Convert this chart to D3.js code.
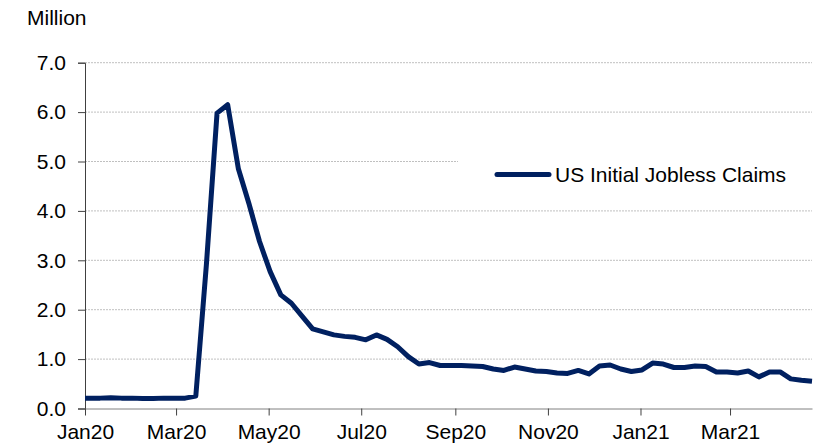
<!DOCTYPE html>
<html>
<head>
<meta charset="utf-8">
<script src="https://cdn.jsdelivr.net/npm/d3@7"></script>
<style>
  html, body { margin: 0; padding: 0; background: #fff; }
  svg { display: block; font-family: "Liberation Sans", Arial, sans-serif; }
</style>
</head>
<body>
<svg id="chart" width="818" height="445"></svg>
<script>
// Weekly US initial jobless claims (millions), week-ending dates
const weekEnding = [
  "2019-12-28","2020-01-04","2020-01-11","2020-01-18","2020-01-25","2020-02-01","2020-02-08","2020-02-15",
  "2020-02-22","2020-02-29","2020-03-07","2020-03-14","2020-03-21","2020-03-28","2020-04-04","2020-04-11",
  "2020-04-18","2020-04-25","2020-05-02","2020-05-09","2020-05-16","2020-05-23","2020-05-30","2020-06-06",
  "2020-06-13","2020-06-20","2020-06-27","2020-07-04","2020-07-11","2020-07-18","2020-07-25","2020-08-01",
  "2020-08-08","2020-08-15","2020-08-22","2020-08-29","2020-09-05","2020-09-12","2020-09-19","2020-09-26",
  "2020-10-03","2020-10-10","2020-10-17","2020-10-24","2020-10-31","2020-11-07","2020-11-14","2020-11-21",
  "2020-11-28","2020-12-05","2020-12-12","2020-12-19","2020-12-26","2021-01-02","2021-01-09","2021-01-16",
  "2021-01-23","2021-01-30","2021-02-06","2021-02-13","2021-02-20","2021-02-27","2021-03-06","2021-03-13",
  "2021-03-20","2021-03-27","2021-04-03","2021-04-10","2021-04-17","2021-04-24"
];
const claims = [
  0.21,0.21,0.21,0.22,0.21,0.21,0.20,0.20,
  0.21,0.21,0.21,0.25,2.92,5.98,6.15,4.86,
  4.15,3.38,2.77,2.30,2.13,1.87,1.61,1.55,
  1.49,1.46,1.44,1.39,1.49,1.40,1.25,1.05,
  0.90,0.93,0.87,0.87,0.87,0.86,0.85,0.80,
  0.77,0.84,0.80,0.76,0.75,0.72,0.71,0.77,
  0.70,0.86,0.88,0.80,0.75,0.78,0.92,0.90,
  0.83,0.83,0.86,0.85,0.74,0.74,0.72,0.76,
  0.64,0.74,0.74,0.60,0.57,0.55
];
const seriesName = "US Initial Jobless Claims";
const unitLabel = "Million";
const xTickDates = ["2020-01-01","2020-03-01","2020-05-01","2020-07-01","2020-09-01","2020-11-01","2021-01-01","2021-03-01"];
const xTickLabels = ["Jan20","Mar20","May20","Jul20","Sep20","Nov20","Jan21","Mar21"];
const yTicks = [0,1,2,3,4,5,6,7];

const parse = d3.utcParse("%Y-%m-%d");
const data = weekEnding.map((d, i) => ({ date: parse(d), value: claims[i] }));

const svg = d3.select("#chart");
const plotLeft = 85, plotRight = 812, plotTop = 62.7, plotBottom = 408.5;
const fontSize = 21;

const x = d3.scaleUtc()
  .domain([parse("2020-01-01"), parse("2021-04-24")])
  .range([plotLeft, plotRight]);
const y = d3.scaleLinear().domain([0, 7]).range([plotBottom, plotTop]);

// Horizontal gridlines
svg.append("g")
  .selectAll("line")
  .data(yTicks.filter(v => v > 0))
  .join("line")
  .attr("x1", plotLeft).attr("x2", plotRight)
  .attr("y1", d => y(d)).attr("y2", d => y(d))
  .attr("stroke", "#c0c0c0")
  .attr("stroke-width", 1)
  .attr("stroke-dasharray", "2,1");

// Clip area for the plotted line
svg.append("clipPath").attr("id", "plot-clip")
  .append("rect")
  .attr("x", plotLeft).attr("y", 0)
  .attr("width", plotRight - plotLeft + 4).attr("height", plotBottom);

// Legend panel sits over the gridlines
const legend = svg.append("g");
legend.append("rect")
  .attr("x", 458).attr("y", 140)
  .attr("width", 360).attr("height", 62)
  .attr("fill", "#fff");

// Y axis
const yAxis = svg.append("g")
  .attr("transform", `translate(${plotLeft},0)`)
  .call(d3.axisLeft(y).tickValues(yTicks).tickFormat(d3.format(".1f")).tickSize(7).tickPadding(12));
yAxis.select(".domain").attr("stroke", "#404040");
yAxis.selectAll(".tick line").attr("stroke", "#404040");
yAxis.selectAll("text").attr("font-size", fontSize).attr("fill", "#000")
  .attr("font-family", "Liberation Sans, Arial, sans-serif");

// X axis
const xAxis = svg.append("g")
  .attr("transform", `translate(0,${plotBottom})`)
  .call(d3.axisBottom(x)
    .tickValues(xTickDates.map(parse))
    .tickFormat((d, i) => xTickLabels[i])
    .tickSize(7).tickPadding(9).tickSizeOuter(0));
xAxis.select(".domain").attr("stroke", "#808080");
xAxis.selectAll(".tick line").attr("stroke", "#404040");
xAxis.selectAll("text").attr("font-size", fontSize).attr("fill", "#000")
  .attr("font-family", "Liberation Sans, Arial, sans-serif");

// Series line
const line = d3.line().x(d => x(d.date)).y(d => y(d.value));
svg.append("path")
  .datum(data)
  .attr("clip-path", "url(#plot-clip)")
  .attr("d", line)
  .attr("fill", "none")
  .attr("stroke", "#002060")
  .attr("stroke-width", 5)
  .attr("stroke-linejoin", "round");

// Unit label
svg.append("text")
  .attr("x", 27).attr("y", 25)
  .attr("font-size", fontSize)
  .text(unitLabel);

// Legend entry
legend.append("line")
  .attr("x1", 497).attr("x2", 549)
  .attr("y1", 174.5).attr("y2", 174.5)
  .attr("stroke", "#002060")
  .attr("stroke-width", 5)
  .attr("stroke-linecap", "round");
legend.append("text")
  .attr("x", 555).attr("y", 174.5)
  .attr("dy", "0.35em")
  .attr("font-size", fontSize)
  .text(seriesName);
</script>
</body>
</html>
